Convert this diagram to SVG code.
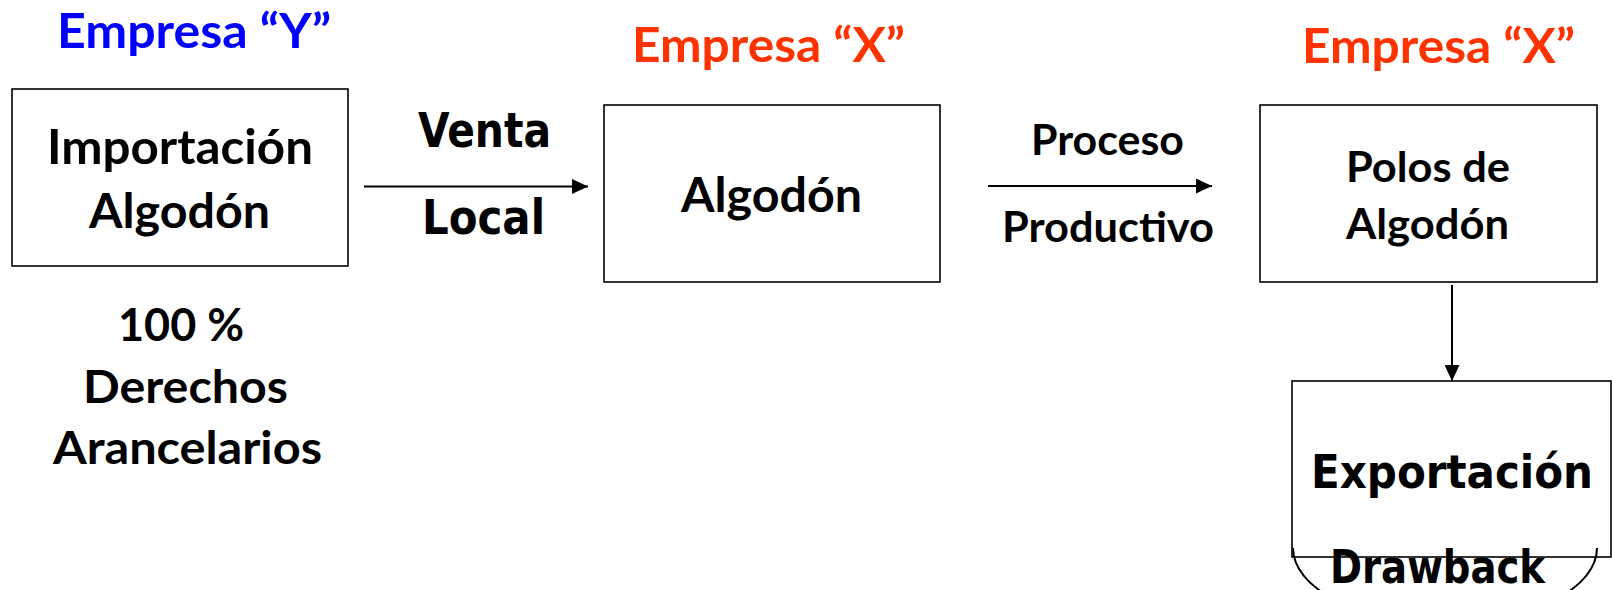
<svg xmlns="http://www.w3.org/2000/svg" width="1612" height="590" viewBox="0 0 1612 590">
<style>
.box{fill:#fff;stroke:#000;stroke-width:1.6}
.c{font-family:Lato,'Open Sans','Liberation Sans',sans-serif;font-weight:bold;text-anchor:middle;fill:#000}
.t{font-family:'DejaVu Sans Condensed','DejaVu Sans',sans-serif;font-weight:bold;text-anchor:middle;fill:#000}
.blue{fill:#0000FF}
.red{fill:#FF3300}
.conn{stroke:#000;stroke-width:2;fill:none}
</style>
<defs>
<marker id="ah" markerUnits="userSpaceOnUse" markerWidth="16" markerHeight="15" refX="16" refY="7.5" orient="auto">
<path d="M0,0 L16,7.5 L0,15 z" fill="#000"/>
</marker>
</defs>
<g id="labels">
<text class="c blue" x="194" y="48" font-size="47" textLength="274" lengthAdjust="spacingAndGlyphs">Empresa “Y”</text>
<text class="c red" x="768.5" y="62" font-size="47" textLength="273" lengthAdjust="spacingAndGlyphs">Empresa “X”</text>
<text class="c red" x="1438.5" y="63" font-size="47" textLength="273" lengthAdjust="spacingAndGlyphs">Empresa “X”</text>
</g>
<g id="node-importacion">
<rect class="box" x="12" y="89" width="336" height="177"/>
<text class="c" x="180" y="164" font-size="47" textLength="266" lengthAdjust="spacingAndGlyphs">Importación</text>
<text class="c" x="179.5" y="228" font-size="47" textLength="181" lengthAdjust="spacingAndGlyphs">Algodón</text>
</g>
<g id="node-algodon">
<rect class="box" x="604" y="105" width="336" height="177"/>
<text class="c" x="771.5" y="212" font-size="47" textLength="181" lengthAdjust="spacingAndGlyphs">Algodón</text>
</g>
<g id="node-polos">
<rect class="box" x="1260" y="105" width="337" height="177"/>
<text class="c" x="1428" y="182" font-size="42" textLength="164" lengthAdjust="spacingAndGlyphs">Polos de</text>
<text class="c" x="1427.5" y="239" font-size="42" textLength="163" lengthAdjust="spacingAndGlyphs">Algodón</text>
</g>
<g id="node-exportacion">
<path class="conn" d="M1293,548 A152,75 0 0 0 1597,548"/>
<rect class="box" x="1292" y="381" width="319" height="176" style="fill:none"/>
<text class="t" x="1452" y="488" font-size="47" textLength="282" lengthAdjust="spacingAndGlyphs">Exportación</text>
<text class="t" x="1437.5" y="583" font-size="46" textLength="215" lengthAdjust="spacingAndGlyphs">Drawback</text>
</g>
<g id="note-derechos">
<text class="c" x="181" y="341" font-size="46" textLength="126" lengthAdjust="spacingAndGlyphs">100 %</text>
<text class="c" x="185.5" y="403" font-size="46" textLength="205" lengthAdjust="spacingAndGlyphs">Derechos</text>
<text class="c" x="187.5" y="464" font-size="46" textLength="269" lengthAdjust="spacingAndGlyphs">Arancelarios</text>
</g>
<g id="connectors">
<line class="conn" x1="364" y1="186.5" x2="588" y2="186.5" marker-end="url(#ah)"/>
<line class="conn" x1="988" y1="186" x2="1212" y2="186" marker-end="url(#ah)"/>
<line class="conn" x1="1452" y1="285" x2="1452" y2="381" marker-end="url(#ah)"/>
<text class="t" x="484.5" y="147" font-size="48" textLength="133" lengthAdjust="spacingAndGlyphs">Venta</text>
<text class="t" x="483.5" y="234" font-size="48" textLength="123" lengthAdjust="spacingAndGlyphs">Local</text>
<text class="c" x="1107.5" y="155" font-size="42" textLength="153" lengthAdjust="spacingAndGlyphs">Proceso</text>
<text class="c" x="1108" y="242" font-size="42" textLength="212" lengthAdjust="spacingAndGlyphs">Productivo</text>
</g>
</svg>
